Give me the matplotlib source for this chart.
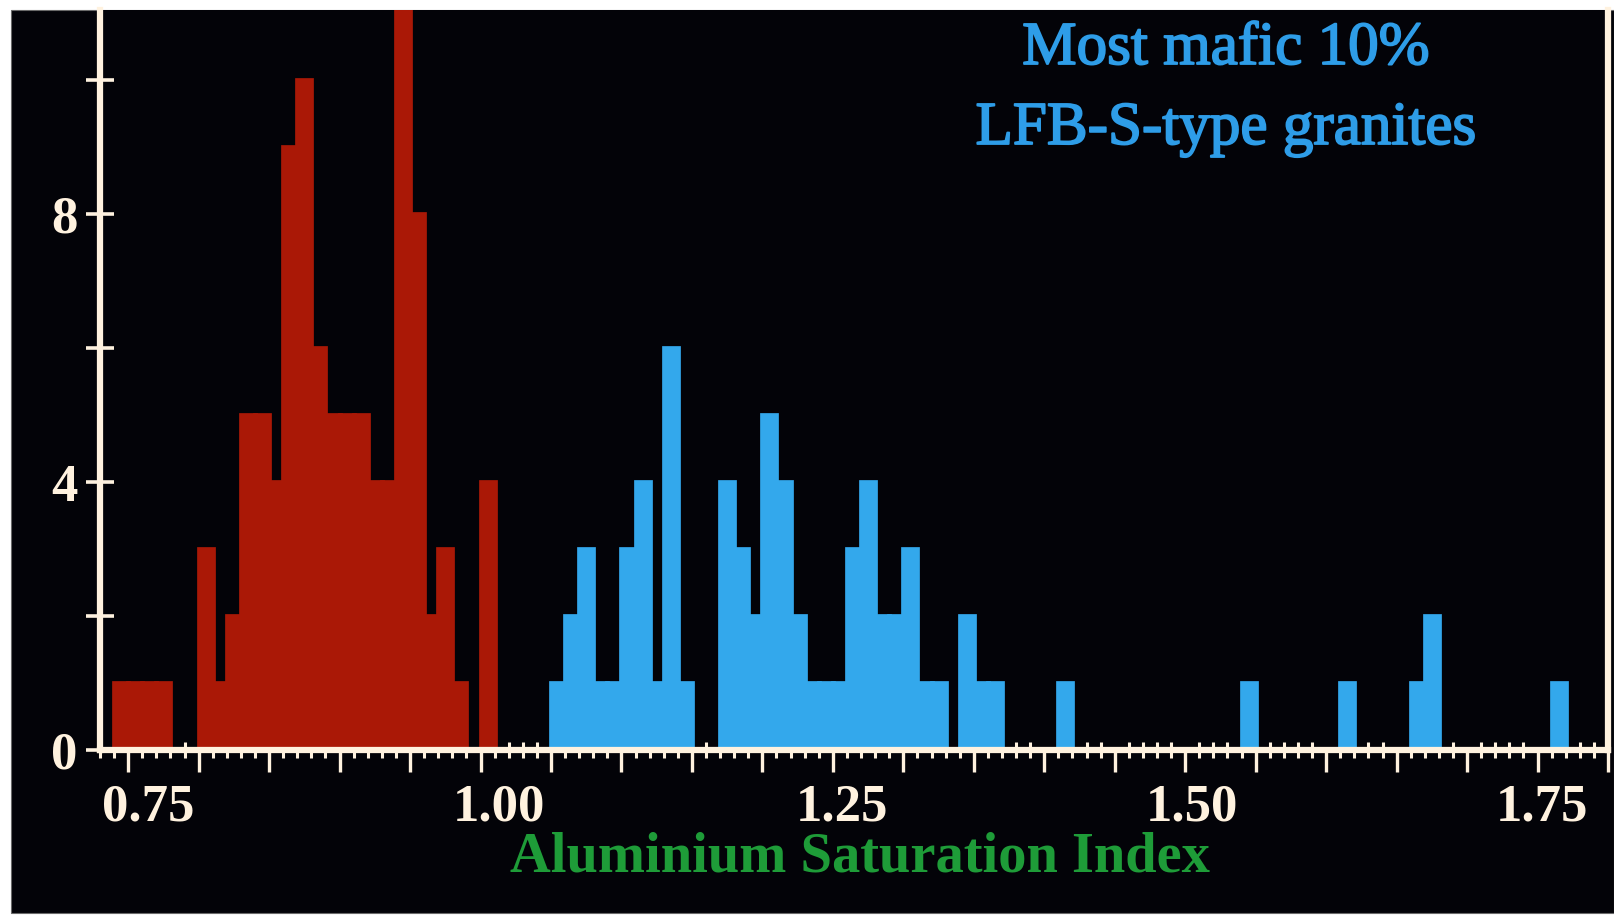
import numpy as np
import matplotlib
matplotlib.use("Agg")
import matplotlib.pyplot as plt
import matplotlib.patheffects as pe
from matplotlib.patches import Rectangle
from matplotlib.ticker import FixedLocator, MultipleLocator, FuncFormatter
from matplotlib.transforms import ScaledTranslation

# ---- data -----------------------------------------------------------------
BIN_WIDTH = 0.01

# comparison population (red), counts per 0.01 ASI bin
red_bins = [0.74, 0.75, 0.76, 0.77, 0.78, 0.79, 0.80, 0.81, 0.82, 0.83,
            0.84, 0.85, 0.86, 0.87, 0.88, 0.89, 0.90, 0.91, 0.92, 0.93,
            0.94, 0.95, 0.96, 0.97, 0.98, 0.99, 1.00]
red_counts = [1, 1, 1, 1, 0, 0, 3, 1, 2, 5,
              5, 4, 9, 10, 6, 5, 5, 5, 4, 4,
              12, 8, 2, 3, 1, 0, 4]

# most mafic 10% of LFB S-type granites (blue)
blue_bins = [1.05, 1.06, 1.07, 1.08, 1.09, 1.10, 1.11, 1.12, 1.13, 1.14,
             1.17, 1.18, 1.19, 1.20, 1.21, 1.22, 1.23, 1.24, 1.25, 1.26,
             1.27, 1.28, 1.29, 1.30, 1.31, 1.32, 1.34, 1.35, 1.36, 1.41,
             1.54, 1.61, 1.66, 1.67, 1.76]
blue_counts = [1, 2, 3, 1, 1, 3, 4, 1, 6, 1,
               4, 3, 2, 5, 4, 2, 1, 1, 1, 3,
               4, 2, 2, 3, 1, 1, 2, 1, 1, 1,
               1, 1, 1, 2, 1]

x_tick_labels = ["0.75", "1.00", "1.25", "1.50", "1.75"]
y_tick_labels = ["0", "4", "8"]
title_lines = ["Most mafic 10%", "LFB-S-type granites"]
x_label = "Aluminium Saturation Index"

# ---- style ----------------------------------------------------------------
W, H, DPI = 1614, 923, 100
BG = "#030308"
AXIS = "#FFF2DF"
RED = "#AA1806"
BLUE = "#33A8EC"
TITLE_BLUE = "#2E9DE8"
GREEN = "#1E9C38"
SERIF = ["Liberation Serif", "DejaVu Serif"]
BAR_GLOW = 3.4                      # soft spread of the bright bars, points
X_LABEL_NUDGE = {"0.75": 20, "1.00": 18, "1.25": 9, "1.50": 7, "1.75": 4}  # px

fig = plt.figure(figsize=(W / DPI, H / DPI), dpi=DPI, facecolor="white")

# dark slide area inside a thin white border
fig.patches.append(Rectangle((11 / W, 1 - 913 / H), 1 - 11 / W, (913 - 10) / H,
                             transform=fig.transFigure, facecolor=BG,
                             edgecolor="#6a6a6a", linewidth=0.8, zorder=-10))

left, right, bottom, top = 100 / W, 1608 / W, 1 - 750 / H, 1 - 10 / H
ax = fig.add_axes([left, bottom, right - left, top - bottom])
ax.set_zorder(1)
ax.set_facecolor(BG)

ax.bar(red_bins, red_counts, width=BIN_WIDTH, align="edge",
       color=RED, edgecolor=RED, linewidth=BAR_GLOW, zorder=2)
ax.bar(blue_bins, blue_counts, width=BIN_WIDTH, align="edge",
       color=BLUE, edgecolor=BLUE, linewidth=BAR_GLOW, zorder=2)

ax.set_xlim(0.73, 1.80)
ax.set_ylim(0, 11.05)

# spines
for side in ("left", "bottom", "right"):
    ax.spines[side].set_color(AXIS)
    ax.spines[side].set_linewidth(4.5)
    ax.spines[side].set_zorder(5)
ax.spines["top"].set_visible(False)

# x ticks: long every 0.05, short every 0.01, labels every 0.25
label_vals = [float(s) for s in x_tick_labels]
ax.xaxis.set_major_locator(MultipleLocator(0.05))
ax.xaxis.set_minor_locator(MultipleLocator(0.01))


def xfmt(v, pos):
    for s, lv in zip(x_tick_labels, label_vals):
        if abs(v - lv) < 1e-6:
            return s
    return ""


ax.xaxis.set_major_formatter(FuncFormatter(xfmt))
ax.tick_params(axis="x", which="major", direction="out", length=16, width=2.4,
               color=AXIS, labelcolor=AXIS, labelsize=38, pad=8)
ax.tick_params(axis="x", which="minor", direction="inout", length=11, width=2.2,
               color=AXIS)

# y ticks every 2, labelled every 4
ax.yaxis.set_major_locator(FixedLocator([0, 2, 4, 6, 8, 10]))
ylab_vals = [int(s) for s in y_tick_labels]
ax.yaxis.set_major_formatter(FuncFormatter(
    lambda v, pos: str(int(round(v))) if int(round(v)) in ylab_vals else ""))
ax.tick_params(axis="y", which="major", direction="inout", length=20, width=2.6,
               color=AXIS, labelcolor=AXIS, labelsize=38, pad=6)

for lbl in ax.get_xticklabels() + ax.get_yticklabels():
    lbl.set_fontfamily(SERIF)
    lbl.set_fontweight("bold")

fig.canvas.draw()
for lbl in ax.get_xticklabels():
    dx = X_LABEL_NUDGE.get(lbl.get_text(), 0)
    lbl.set_transform(lbl.get_transform()
                      + ScaledTranslation(dx / DPI, 0, fig.dpi_scale_trans))

# headline
glow = [pe.withStroke(linewidth=1.3, foreground=TITLE_BLUE)]
for text, base in zip(title_lines, (64, 144)):
    fig.text(1226 / W, 1 - base / H, text, color=TITLE_BLUE, fontsize=44,
             family=SERIF, ha="center", va="baseline", path_effects=glow)

# axis title
fig.text(860 / W, 1 - 872 / H, x_label, color=GREEN, fontsize=40.7,
         family=SERIF, fontweight="bold", ha="center", va="baseline")

fig.savefig("out.png", dpi=DPI, facecolor="white")
